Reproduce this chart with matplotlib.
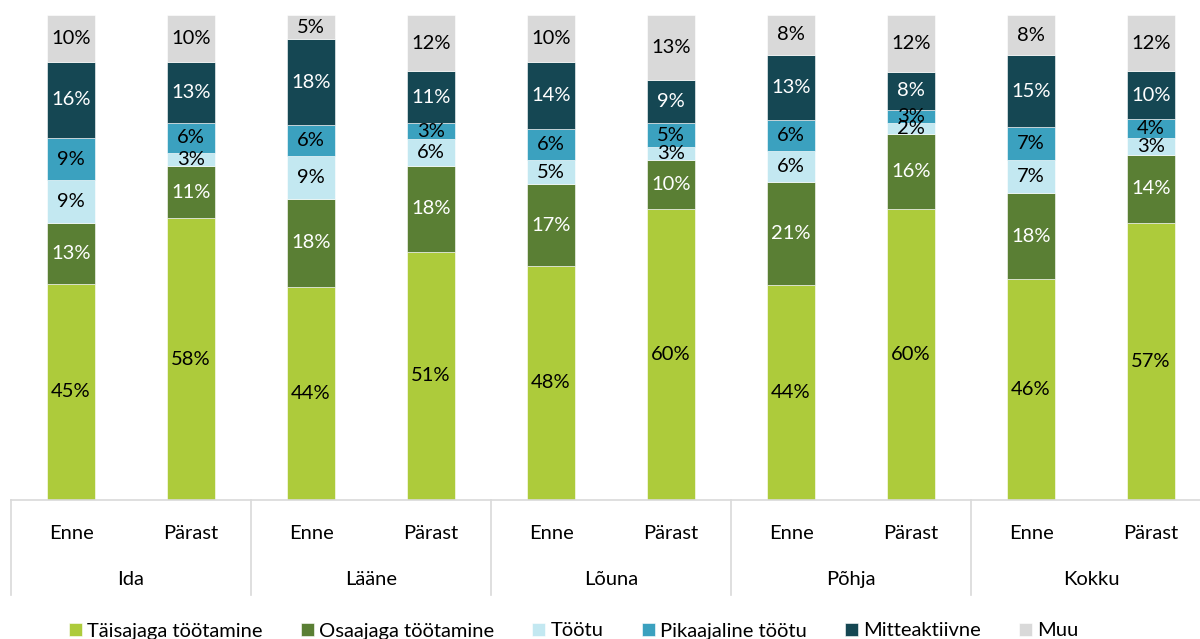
import matplotlib.pyplot as plt
import numpy as np

plt.rcParams['font.family'] = ['Lato', 'DejaVu Sans']

# Data (shares in %)
regions = ['Ida', 'Lääne', 'Lõuna', 'Põhja', 'Kokku']
periods = ['Enne', 'Pärast']
series = ['Täisajaga töötamine', 'Osaajaga töötamine', 'Töötu',
          'Pikaajaline töötu', 'Mitteaktiivne', 'Muu']

# order per bar: Ida Enne, Ida Pärast, Lääne Enne, ...
taisaeg = [44.6, 58.1, 44.0, 51.2, 48.3, 60.0, 44.3, 59.9, 45.6, 57.1]
osaaeg = [12.6, 10.8, 18.1, 17.6, 16.8, 10.1, 21.3, 15.6, 17.6, 14.1]
tootu = [8.7, 2.7, 8.9, 5.6, 4.9, 2.6, 6.4, 2.3, 6.9, 3.4]
pikaajaline = [8.8, 6.1, 6.3, 3.3, 6.4, 5.1, 6.4, 2.6, 6.8, 3.9]
mitteaktiivne = [15.6, 12.6, 17.7, 10.7, 14.0, 8.8, 13.4, 7.9, 14.8, 9.9]
muu = [9.7, 9.7, 5.0, 11.6, 9.6, 13.4, 8.2, 11.7, 8.3, 11.6]

colors = ['#ADCB3B', '#5A7F34', '#C3E8F1', '#3BA1BF', '#154753', '#D9D9D9']
text_colors = ['black', 'white', 'black', 'black', 'white', 'black']

fig = plt.figure(figsize=(12, 6.39), dpi=100)
ax = fig.add_axes([11 / 1200, 139 / 639, 1200 / 1200, 485 / 639])

x = np.arange(len(taisaeg))
bottom = np.zeros(len(x))
for vals, name, col, tcol in zip(
        [taisaeg, osaaeg, tootu, pikaajaline, mitteaktiivne, muu],
        series, colors, text_colors):
    vals = np.array(vals)
    ax.bar(x, vals, 0.4, bottom=bottom, color=col, label=name,
           edgecolor='white', linewidth=0.4)
    for xi, b, v in zip(x, bottom, vals):
        ax.text(xi, b + v / 2, f'{v:.0f}%', ha='center', va='center',
                color=tcol, fontsize=14.5)
    bottom += vals

ax.set_xlim(-0.5, len(x) - 0.5)
ax.set_ylim(0, 100)
ax.set_yticks([])
for s in ['top', 'right', 'left']:
    ax.spines[s].set_visible(False)
ax.spines['bottom'].set_color('#D9D9D9')
ax.spines['bottom'].set_linewidth(1.2)

ax.set_xticks(x)
ax.set_xticklabels(periods * len(regions), fontsize=14.5)
ax.tick_params(axis='x', length=0, pad=18)

trans = ax.get_xaxis_transform()
for i, r in enumerate(regions):
    ax.text(2 * i + 0.5, -0.163, r, transform=trans, ha='center',
            va='center', fontsize=14.5)
for i in range(len(regions) + 1):
    ax.plot([2 * i - 0.5, 2 * i - 0.5], [0, -0.195], transform=trans,
            color='#D9D9D9', linewidth=1.2, clip_on=False)

fig.legend(loc='center', bbox_to_anchor=(0.478, 1 - 631 / 639), ncol=6,
           frameon=False, fontsize=14.5, handlelength=0.65, handleheight=0.65,
           handletextpad=0.25, columnspacing=1.9)

fig.savefig('out.png', dpi=100)
